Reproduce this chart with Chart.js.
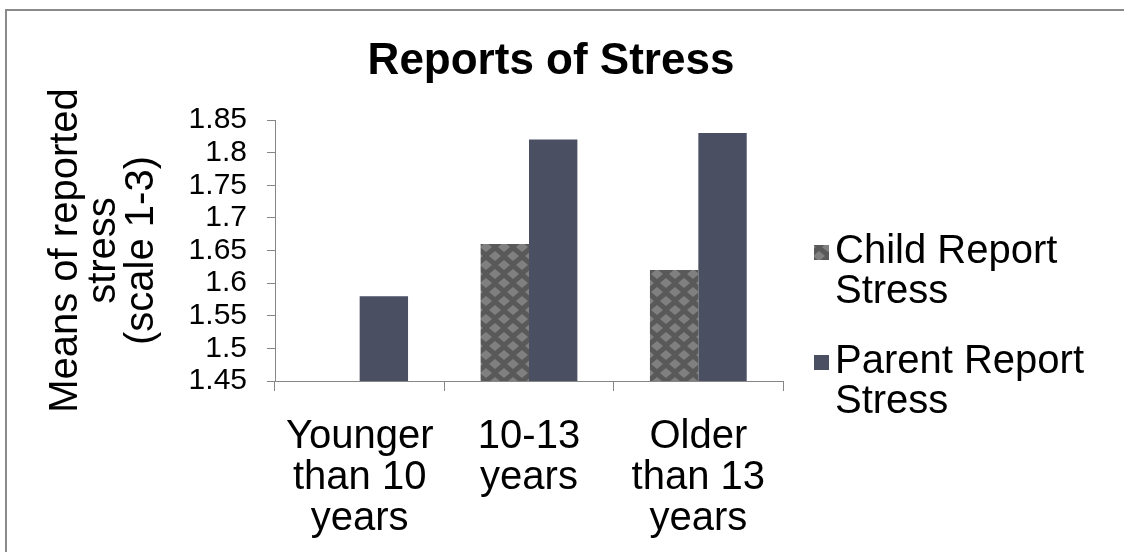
<!DOCTYPE html>
<html>
<head>
<meta charset="utf-8">
<script src="https://cdn.jsdelivr.net/npm/chart.js@4/dist/chart.umd.min.js"></script>
<style>
  html, body { margin: 0; padding: 0; background: #fff; }
  #wrap { position: relative; width: 1124px; height: 552px; }
</style>
</head>
<body>
<div id="wrap"><canvas id="stressChart"></canvas></div>
<script>
const chartTitle = 'Reports of Stress';
const ageGroups = [['Younger', 'than 10', 'years'], ['10-13', 'years'], ['Older', 'than 13', 'years']];
const childStress = [null, 1.66, 1.62];
const parentStress = [1.58, 1.82, 1.83];
const yTickLabels = ['1.45', '1.5', '1.55', '1.6', '1.65', '1.7', '1.75', '1.8', '1.85'];
const seriesNames = [['Child Report', 'Stress'], ['Parent Report', 'Stress']];
const yAxisTitle = ['Means of reported', 'stress', '(scale 1-3)'];

const FONT = '"Liberation Sans", Arial, sans-serif';
const AXIS_GRAY = '#868686';

// diamond checker fill used for the child bars
function diamondPattern(ctx) {
  const c = document.createElement('canvas');
  c.width = 18; c.height = 18;
  const p = c.getContext('2d');
  p.fillStyle = '#595959';
  p.fillRect(0, 0, 18, 18);
  p.fillStyle = '#808080';
  const diamond = (cx, cy) => {
    p.beginPath();
    p.moveTo(cx, cy - 5);
    p.lineTo(cx + 6, cy);
    p.lineTo(cx, cy + 5);
    p.lineTo(cx - 6, cy);
    p.closePath();
    p.fill();
  };
  diamond(9, 4); diamond(9, 22); diamond(0, 13); diamond(18, 13);
  return ctx.createPattern(c, 'repeat');
}

const canvas = document.getElementById('stressChart');
const ctx = canvas.getContext('2d');
const childFill = diamondPattern(ctx);
const parentFill = '#4a4f62';

// gray frame along the top and left edge, plus the centred title
const framePlugin = {
  id: 'frame',
  beforeDraw(chart) {
    const c = chart.ctx;
    c.save();
    c.fillStyle = '#8a8a8a';
    c.fillRect(5, 9, 2, chart.height - 9);
    c.fillRect(5, 9, chart.width - 5, 2);
    c.fillStyle = '#000';
    c.font = 'bold 44px ' + FONT;
    c.textAlign = 'center';
    c.textBaseline = 'middle';
    c.fillText(chartTitle, 551, 62);
    c.restore();
  }
};

// two-line legend entries on the right of the plot
const sideLegend = {
  id: 'sideLegend',
  afterDraw(chart) {
    const c = chart.ctx;
    const area = chart.chartArea;
    const boxX = area.right + 31;
    const textX = area.right + 52;
    const lineGap = 40;
    let y = area.top + 132;
    c.save();
    c.font = '40px ' + FONT;
    c.textBaseline = 'middle';
    chart.data.datasets.forEach((ds, i) => {
      c.fillStyle = ds.backgroundColor;
      c.fillRect(boxX, y - 7, 15, 15);
      c.fillStyle = '#000';
      seriesNames[i].forEach((line, k) => c.fillText(line, textX, y + k * lineGap));
      y += 110;
    });
    c.restore();
  }
};

new Chart(ctx, {
  type: 'bar',
  data: {
    labels: ageGroups,
    datasets: [
      { label: 'Child Report Stress', data: childStress, backgroundColor: childFill },
      { label: 'Parent Report Stress', data: parentStress, backgroundColor: parentFill }
    ]
  },
  options: {
    responsive: true,
    maintainAspectRatio: false,
    animation: false,
    devicePixelRatio: 1,
    categoryPercentage: 2 / 3.5,
    barPercentage: 1,
    layout: { padding: { left: 6, right: 341, top: 120, bottom: 0 } },
    plugins: {
      legend: { display: false },
      tooltip: { enabled: false },
      title: { display: false }
    },
    scales: {
      x: {
        afterFit(scale) {
          scale.height = 171;
          scale.paddingLeft = 0;
          scale.paddingRight = 0;
        },
        grid: { display: true, drawOnChartArea: false, drawTicks: true, tickLength: 10, color: AXIS_GRAY, offset: true },
        border: { display: true, color: AXIS_GRAY, width: 1 },
        ticks: {
          color: '#000',
          autoSkip: false,
          maxRotation: 0,
          padding: 26,
          font: { family: FONT, size: 40, lineHeight: 1.02 }
        }
      },
      y: {
        min: 1.45,
        max: 1.85,
        afterFit(scale) {
          scale.width = 269;
          scale.paddingTop = 0;
          scale.paddingBottom = 0;
        },
        grid: { display: true, drawOnChartArea: false, drawTicks: true, tickLength: 8, color: AXIS_GRAY },
        border: { display: true, color: AXIS_GRAY, width: 1 },
        ticks: {
          stepSize: 0.05,
          autoSkip: false,
          color: '#000',
          padding: 20,
          font: { family: FONT, size: 30 },
          callback: (v, i) => yTickLabels[i]
        },
        title: {
          display: true,
          text: yAxisTitle,
          color: '#000',
          font: { family: FONT, size: 40, lineHeight: 0.95 },
          padding: { top: 41, bottom: 28 }
        }
      }
    }
  },
  plugins: [framePlugin, sideLegend]
});
</script>
</body>
</html>
